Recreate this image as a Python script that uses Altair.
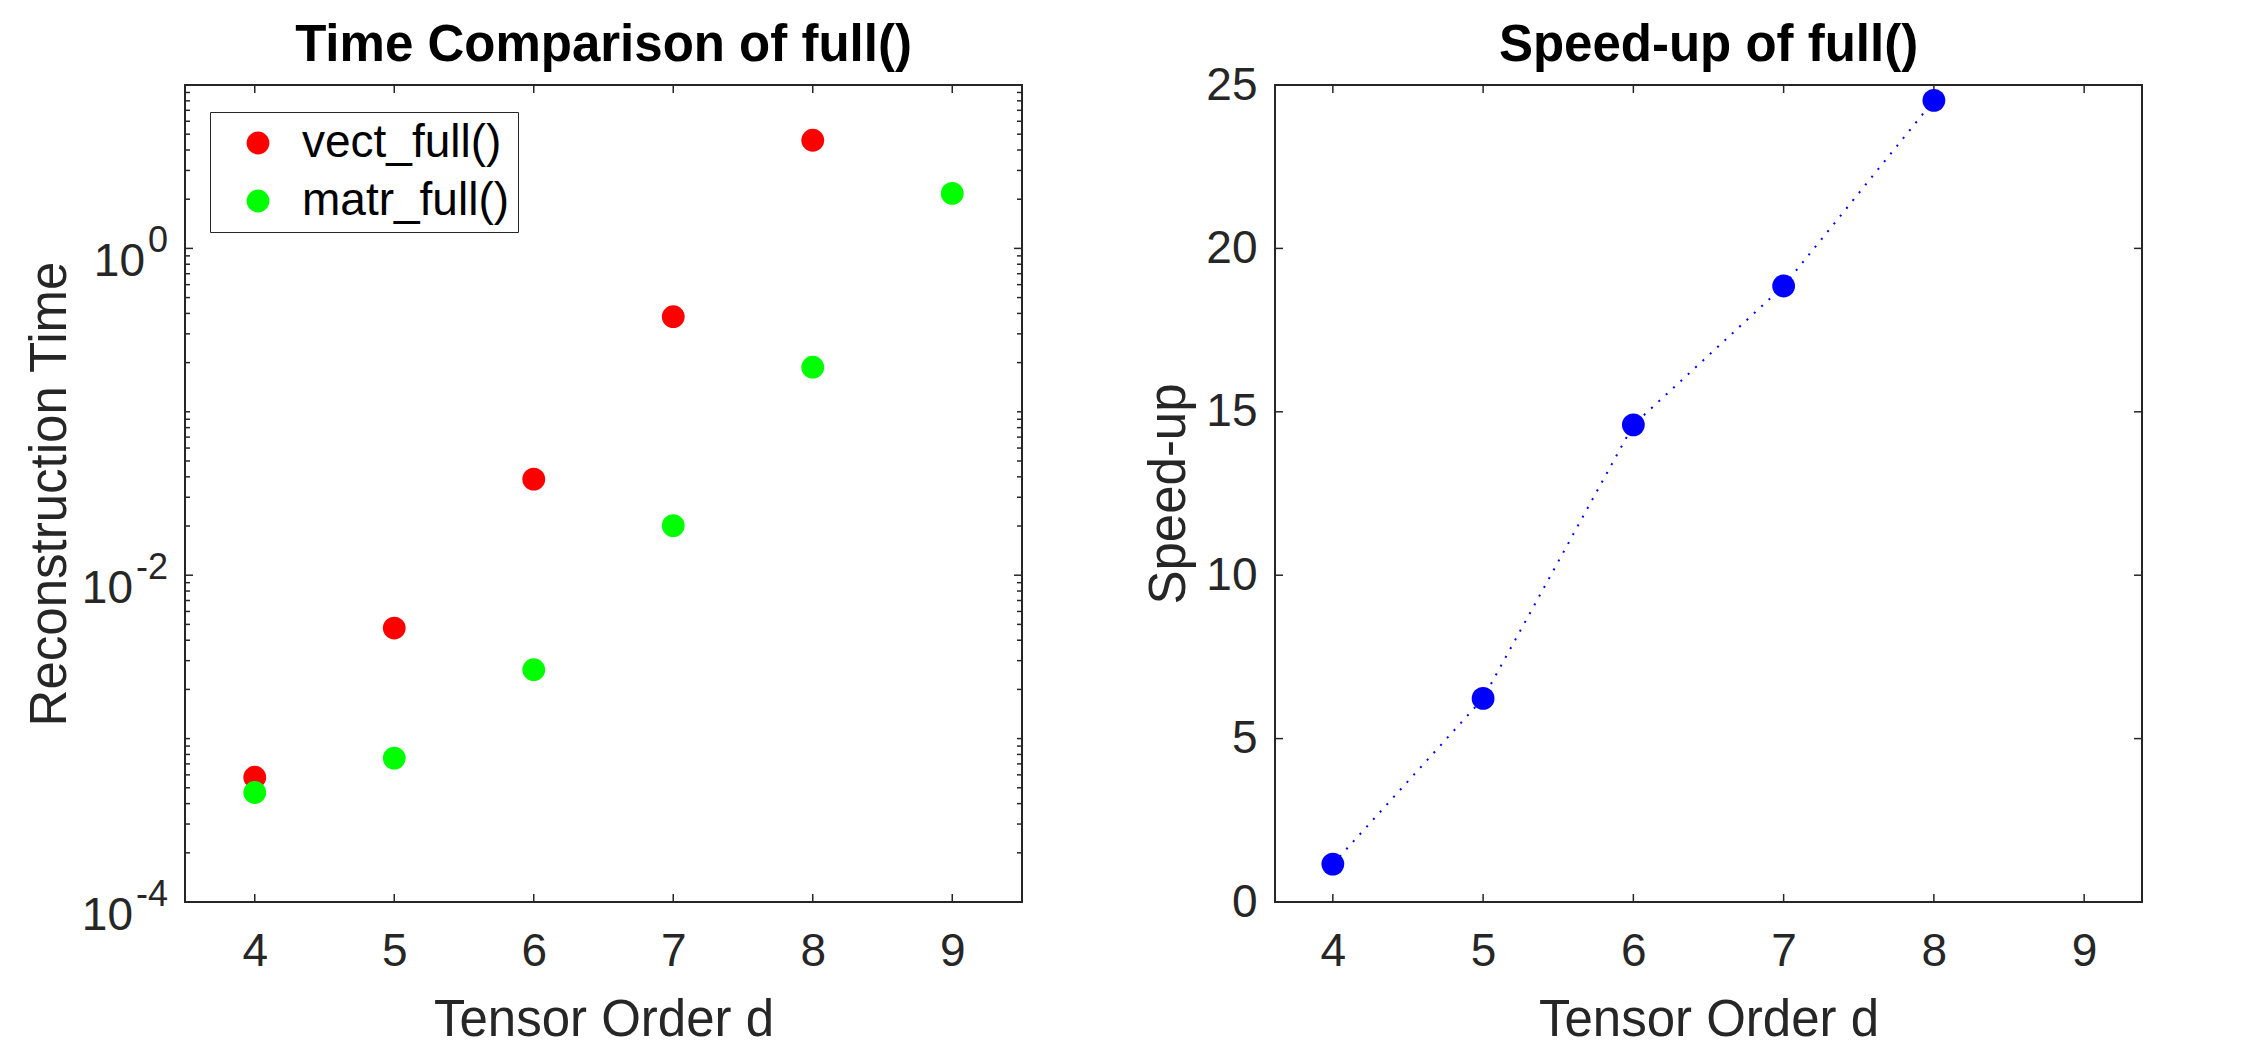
import altair as alt
import pandas as pd

FONT = "Liberation Sans"
AX = "#262626"

# ---- data ----
vect_orders = [4, 5, 6, 7, 8]
vect_time = [5.8e-4, 4.75e-3, 3.87e-2, 0.382, 4.59]
matr_orders = [4, 5, 6, 7, 8, 9]
matr_time = [4.68e-4, 7.6e-4, 2.64e-3, 2.01e-2, 0.1875, 2.17]
speed_orders = [4, 5, 6, 7, 8]
speedup = [1.16, 6.23, 14.6, 18.85, 24.53]

series_names = ["vect_full()", "matr_full()"]
series_colors = ["#ff0000", "#00ff00"]

x_ticks = [4, 5, 6, 7, 8, 9]
log_major = [1e-4, 1e-2, 1e0]
log_exponents = ["-4", "-2", "0"]
log_minor = [k * 10.0 ** e for e in range(-4, 1) for k in range(2, 10)] + [1e-3, 1e-1]
speed_ticks = [0, 5, 10, 15, 20, 25]

W1, W2, H = 837, 867, 817
TL, TM = 8, 5
MSIZE = 520

# ---- left panel ----
time_df = pd.DataFrame({
    "order": vect_orders + matr_orders,
    "time": vect_time + matr_time,
    "series": [series_names[0]] * len(vect_orders) + [series_names[1]] * len(matr_orders),
})
xs1 = alt.Scale(domain=[3.5, 9.5], nice=False, zero=False)
ys1 = alt.Scale(type="log", domain=[1e-4, 10], nice=False)
xax1 = alt.Axis(values=x_ticks, format="d", title="Tensor Order d", labelPadding=27, titlePadding=21)
yax1 = alt.Axis(values=log_major, labels=False, title="Reconstruction Time", titlePadding=109)

points1 = alt.Chart(time_df).mark_circle(size=MSIZE, opacity=1).encode(
    x=alt.X("order:Q", scale=xs1, axis=xax1),
    y=alt.Y("time:Q", scale=ys1, axis=yax1),
    color=alt.Color(
        "series:N",
        scale=alt.Scale(domain=series_names, range=series_colors),
        legend=alt.Legend(
            title=None, orient="none", legendX=25, legendY=27, padding=8,
            strokeColor=AX, fillColor="white", symbolSize=MSIZE, symbolType="circle",
            symbolStrokeWidth=0, symbolOpacity=1, symbolOffset=17, labelOffset=21,
            rowPadding=12, labelFontSize=46, labelFont=FONT, labelColor="#000000",
            labelLimit=0, cornerRadius=0,
        ),
    ),
)

lab_df = pd.DataFrame({"v": log_major, "e": log_exponents})
exp_layer = alt.Chart(lab_df).mark_text(
    align="right", baseline="alphabetic", dy=4, fontSize=36, font=FONT, color=AX
).encode(x=alt.value(-17), y=alt.Y("v:Q", scale=ys1, axis=yax1), text="e:N")
ten_neg = alt.Chart(lab_df).transform_filter("indexof(datum.e, '-') >= 0").mark_text(
    align="right", baseline="alphabetic", dy=28, fontSize=46, font=FONT, color=AX
).encode(x=alt.value(-52), y=alt.Y("v:Q", scale=ys1, axis=yax1), text=alt.value("10"))
ten_pos = alt.Chart(lab_df).transform_filter("indexof(datum.e, '-') < 0").mark_text(
    align="right", baseline="alphabetic", dy=28, fontSize=46, font=FONT, color=AX
).encode(x=alt.value(-40), y=alt.Y("v:Q", scale=ys1, axis=yax1), text=alt.value("10"))


def y_ticks(vals, scale, axis, w, length):
    df = pd.DataFrame({"v": vals})
    base = alt.Chart(df).mark_rule(color=AX, strokeWidth=1.5)
    a = base.encode(y=alt.Y("v:Q", scale=scale, axis=axis), x=alt.value(0), x2=alt.value(length))
    b = base.encode(y=alt.Y("v:Q", scale=scale, axis=axis), x=alt.value(w), x2=alt.value(w - length))
    return [a, b]


def x_tick_rules(vals, scale, axis, h, length):
    df = pd.DataFrame({"v": vals})
    base = alt.Chart(df).mark_rule(color=AX, strokeWidth=1.5)
    a = base.encode(x=alt.X("v:Q", scale=scale, axis=axis), y=alt.value(h), y2=alt.value(h - length))
    b = base.encode(x=alt.X("v:Q", scale=scale, axis=axis), y=alt.value(0), y2=alt.value(length))
    return [a, b]


left = alt.layer(
    *y_ticks(log_minor, ys1, yax1, W1, TM),
    *y_ticks(log_major, ys1, yax1, W1, TL),
    *x_tick_rules(x_ticks, xs1, xax1, H, TL),
    exp_layer, ten_neg, ten_pos,
    points1,
).properties(
    width=W1, height=H,
    title=alt.TitleParams("Time Comparison of full()", fontSize=51, fontWeight="bold", font=FONT,
                          color="#000000", anchor="middle", frame="group", baseline="alphabetic", offset=-28),
)

# ---- right panel ----
speed_df = pd.DataFrame({"order": speed_orders, "speedup": speedup})
xs2 = alt.Scale(domain=[3.615, 9.385], nice=False, zero=False)
ys2 = alt.Scale(domain=[0, 25], nice=False)
xax2 = alt.Axis(values=x_ticks, format="d", title="Tensor Order d", labelPadding=27, titlePadding=21)
yax2 = alt.Axis(values=speed_ticks, title="Speed-up", labelPadding=18, titlePadding=10)

line2 = alt.Chart(speed_df).mark_line(color="#0000ff", strokeWidth=2, strokeDash=[2, 8]).encode(
    x=alt.X("order:Q", scale=xs2, axis=xax2), y=alt.Y("speedup:Q", scale=ys2, axis=yax2)
)
points2 = alt.Chart(speed_df).mark_circle(size=MSIZE, opacity=1, color="#0000ff").encode(
    x=alt.X("order:Q", scale=xs2, axis=xax2), y=alt.Y("speedup:Q", scale=ys2, axis=yax2)
)

right = alt.layer(
    *y_ticks(speed_ticks, ys2, yax2, W2, TL),
    *x_tick_rules(x_ticks, xs2, xax2, H, TL),
    line2, points2,
).properties(
    width=W2, height=H,
    title=alt.TitleParams("Speed-up of full()", fontSize=51, fontWeight="bold", font=FONT,
                          color="#000000", anchor="middle", frame="group", baseline="alphabetic", offset=-50),
)

chart = alt.hconcat(left, right, spacing=253, bounds="flush").properties(
    padding={"left": 15, "top": 11, "right": 5, "bottom": 5}, background="white"
).configure_view(stroke=AX, strokeWidth=2).configure_axis(
    domain=False, ticks=False, grid=False,
    labelFont=FONT, labelFontSize=46, labelColor=AX,
    titleFont=FONT, titleFontSize=51, titleFontWeight="normal", titleColor=AX,
)

chart.save("out.html", embed_options={"renderer": "svg", "actions": False})
